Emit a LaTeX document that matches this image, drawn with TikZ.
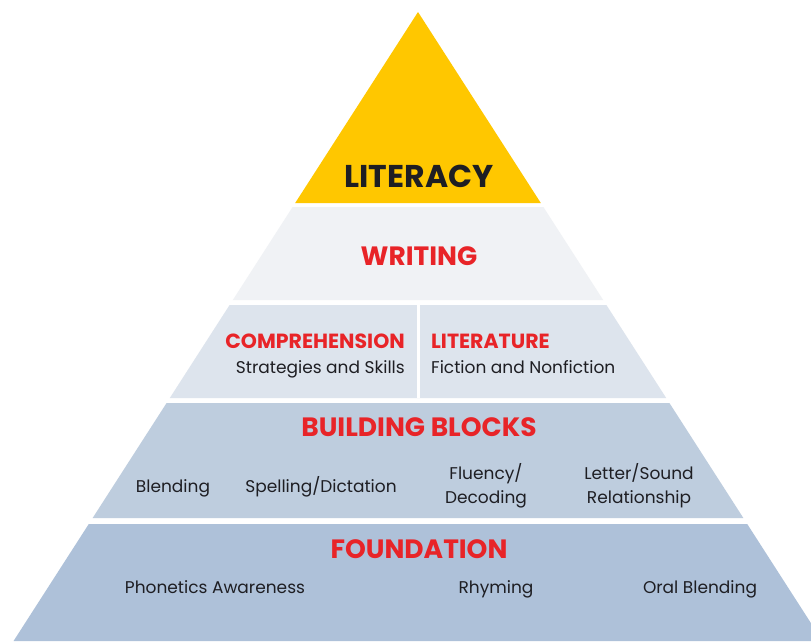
\documentclass[tikz,border=0pt]{standalone}
\usepackage{fontspec}
\setmainfont{Poppins}
\usetikzlibrary{positioning}
\definecolor{litgold}{RGB}{255,199,0}
\definecolor{writegray}{RGB}{240,242,245}
\definecolor{comprblue}{RGB}{221,228,237}
\definecolor{blockblue}{RGB}{190,205,222}
\definecolor{foundblue}{RGB}{174,193,217}
\definecolor{headred}{RGB}{232,36,40}
\definecolor{textdark}{RGB}{30,30,35}

\begin{document}
\begin{tikzpicture}[
    x=1pt, y=-1pt,
    apex/.style={font=\bfseries\fontsize{31.5}{34}\selectfont, text=textdark, inner sep=0pt, anchor=base},
    heading/.style={font=\bfseries\fontsize{26.5}{28}\selectfont, text=headred, inner sep=0pt, anchor=base},
    subheading/.style={font=\bfseries\fontsize{20.5}{22}\selectfont, text=headred, inner sep=0pt},
    item/.style={font=\fontsize{17}{24}\selectfont, text=textdark, inner sep=0pt, align=center, anchor=base}
]
    \useasboundingbox (0,0) rectangle (811,641);
    \clip (0,0) rectangle (811,641);
    \fill[white] (0,0) rectangle (811,641);

    % Bands of the pyramid
    \foreach \ytop/\ybot/\col in {12/203/litgold, 207/300/writegray, 305/398/comprblue, 403/518/blockblue, 524/641/foundblue}
        \fill[\col] ({418-0.643*(\ytop-12)},\ytop) -- ({418+0.643*(\ytop-12)},\ytop)
            -- ({418+0.643*(\ybot-12)},\ybot) -- ({418-0.643*(\ybot-12)},\ybot) -- cycle;
    \draw[white, line width=3pt] (418,305) -- (418,398);

    % Top
    \node[apex] (literacy) at (419,187) {LITERACY};
    \node[heading] (writing) at (419,265) {WRITING};

    % Comprehension and literature
    \node[subheading, anchor=base east] (compr) at (405,348) {COMPREHENSION};
    \node[item, anchor=base east] (comprsub) at (405,373) {Strategies and Skills};
    \node[subheading, anchor=base west] (lit) at (431,348) {LITERATURE};
    \node[item, anchor=base west] (litsub) at (431,373) {Fiction and Nonfiction};

    % Building blocks
    \node[heading] (blocks) at (419,436) {BUILDING BLOCKS};
    \node[item] (blending) at (173,492) {Blending};
    \node[item] (spelling) at (321,492) {Spelling/Dictation};
    \node[item] (fluency) at (486,503) {Fluency/\\Decoding};
    \node[item] (lettersound) at (639,503) {Letter/Sound\\Relationship};

    % Foundation
    \node[heading] (foundation) at (419,558) {FOUNDATION};
    \node[item] (phonetics) at (215,593) {Phonetics Awareness};
    \node[item] (rhyming) at (496,593) {Rhyming};
    \node[item] (oralblend) at (700,593) {Oral Blending};
\end{tikzpicture}
\end{document}
